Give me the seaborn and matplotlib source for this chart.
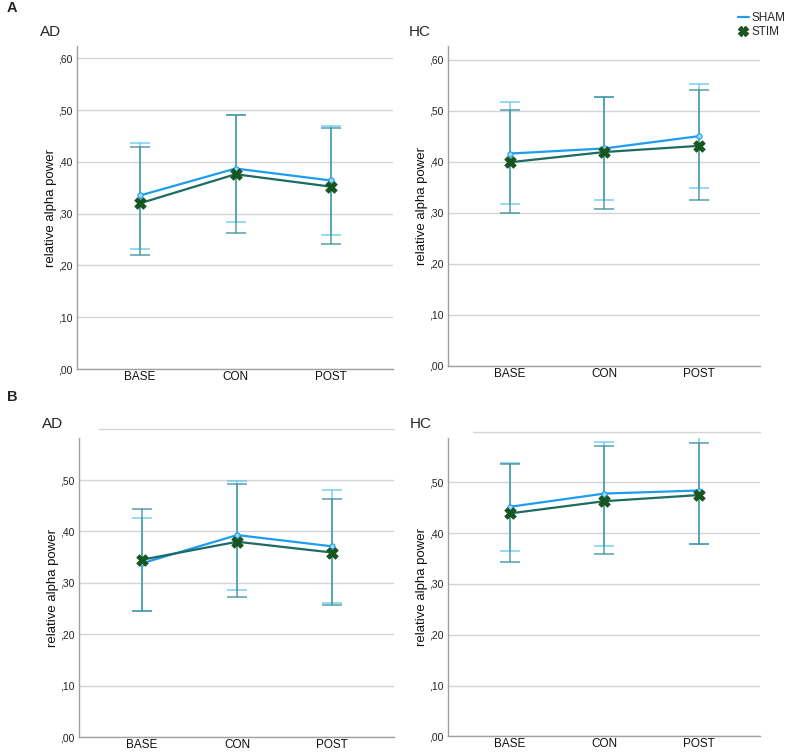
import numpy as np
import pandas as pd
import seaborn as sns
import matplotlib.pyplot as plt
from matplotlib.lines import Line2D

sns.set_theme(style="white")
plt.rcParams['font.family'] = ['Liberation Sans', 'DejaVu Sans']

phases = ["BASE", "CON", "POST"]
groups = ["SHAM", "STIM"]

# panel A, AD
a_ad_sham = [0.335, 0.387, 0.364]
a_ad_sham_lo = [0.232, 0.283, 0.259]
a_ad_sham_hi = [0.437, 0.490, 0.470]
a_ad_stim = [0.320, 0.376, 0.352]
a_ad_stim_lo = [0.220, 0.263, 0.242]
a_ad_stim_hi = [0.428, 0.490, 0.466]

# panel A, HC
a_hc_sham = [0.416, 0.426, 0.450]
a_hc_sham_lo = [0.317, 0.326, 0.348]
a_hc_sham_hi = [0.516, 0.527, 0.552]
a_hc_stim = [0.399, 0.419, 0.431]
a_hc_stim_lo = [0.300, 0.308, 0.325]
a_hc_stim_hi = [0.501, 0.527, 0.540]

# panel B, AD
b_ad_sham = [0.338, 0.393, 0.371]
b_ad_sham_lo = [0.245, 0.286, 0.260]
b_ad_sham_hi = [0.426, 0.499, 0.480]
b_ad_stim = [0.345, 0.380, 0.359]
b_ad_stim_lo = [0.245, 0.272, 0.256]
b_ad_stim_hi = [0.443, 0.492, 0.463]

# panel B, HC
b_hc_sham = [0.452, 0.478, 0.484]
b_hc_sham_lo = [0.365, 0.375, 0.379]
b_hc_sham_hi = [0.538, 0.580, 0.590]
b_hc_stim = [0.439, 0.463, 0.475]
b_hc_stim_lo = [0.344, 0.359, 0.379]
b_hc_stim_hi = [0.536, 0.571, 0.577]

line_col = {"SHAM": "#1f9cf0", "STIM": "#1e6b62"}
err_col = {"SHAM": "#62c6ee", "STIM": "#3a8d97"}

fig = plt.figure(figsize=(7.9, 7.54), dpi=100)

panels = [
    ("AD", [0.0975, 0.5106, 0.400, 0.428], 0.623,
     (a_ad_sham, a_ad_sham_lo, a_ad_sham_hi), (a_ad_stim, a_ad_stim_lo, a_ad_stim_hi)),
    ("HC", [0.567, 0.5146, 0.395, 0.424], 0.626,
     (a_hc_sham, a_hc_sham_lo, a_hc_sham_hi), (a_hc_stim, a_hc_stim_lo, a_hc_stim_hi)),
    ("AD", [0.100, 0.0225, 0.399, 0.396], 0.581,
     (b_ad_sham, b_ad_sham_lo, b_ad_sham_hi), (b_ad_stim, b_ad_stim_lo, b_ad_stim_hi)),
    ("HC", [0.567, 0.0235, 0.395, 0.396], 0.588,
     (b_hc_sham, b_hc_sham_lo, b_hc_sham_hi), (b_hc_stim, b_hc_stim_lo, b_hc_stim_hi)),
]

for i, (title, rect, ytop, sham, stim) in enumerate(panels):
    ax = fig.add_axes(rect)
    rows = []
    for g, (m, lo, hi) in zip(groups, [sham, stim]):
        for p, mv, l, h in zip(phases, m, lo, hi):
            rows.append({"phase": p, "group": g, "mean": mv, "lo": l, "hi": h})
    df = pd.DataFrame(rows)

    # error bars first
    for g in groups:
        d = df[df.group == g]
        ax.errorbar(d["phase"], d["mean"],
                    yerr=[d["mean"] - d["lo"], d["hi"] - d["mean"]],
                    fmt="none", ecolor=err_col[g], elinewidth=1.1,
                    capsize=7, capthick=1.1, alpha=0.85, zorder=2)

    sns.lineplot(data=df, x="phase", y="mean", hue="group",
                 palette=line_col, lw=1.6, legend=False, ax=ax, zorder=3,
                 sort=False)
    d = df[df.group == "SHAM"]
    ax.scatter(d["phase"], d["mean"], s=14, facecolor="#9ed8f7",
               edgecolor="#1f9cf0", lw=0.8, zorder=4)
    d = df[df.group == "STIM"]
    ax.scatter(d["phase"], d["mean"], s=70, marker="X", color="#17561f",
               edgecolor="#17561f", lw=0.5, zorder=5)

    ax.set_xlim(-0.66, 2.65)
    ax.set_ylim(0, ytop)
    top_tick = 0.6 if i < 2 else 0.5
    ticks = np.arange(0, top_tick + 0.001, 0.1)
    ax.set_yticks(ticks)
    ax.set_yticklabels(["," + f"{t:.2f}".split(".")[1] for t in ticks],
                       fontsize=7.5, color="#222222")
    ax.tick_params(axis="x", labelsize=8.5, length=0, pad=1.5,
                   colors="#111111")
    ax.tick_params(axis="y", length=0, pad=3)
    ax.yaxis.grid(True, color="#d4d4d4", lw=1)
    ax.set_axisbelow(True)
    for s in ["top", "right"]:
        ax.spines[s].set_visible(False)
    for s in ["left", "bottom"]:
        ax.spines[s].set_color("#a0a0a0")
        ax.spines[s].set_linewidth(1)
    ax.set_xlabel("")
    ax.set_ylabel("relative alpha power", fontsize=9.5, color="#111111",
                  labelpad=1)
    if i >= 2:
        # stray ,60 gridline sitting above the plot area
        start = 0.065 if i == 2 else 0.08
        ax.axhline(0.6, xmin=start, xmax=1, color="#d4d4d4", lw=1,
                   clip_on=False)

fig.text(40 / 790, 1 - 32 / 754, "AD", fontsize=11, va="center", ha="left")
fig.text(409 / 790, 1 - 32 / 754, "HC", fontsize=11, va="center", ha="left")
fig.text(42 / 790, 1 - 424 / 754, "AD", fontsize=11, va="center", ha="left")
fig.text(410 / 790, 1 - 424 / 754, "HC", fontsize=11, va="center", ha="left")
fig.text(7 / 790, 1 - 8 / 754, "A", fontsize=10.5, fontweight="bold",
         va="center", ha="left")
fig.text(7 / 790, 1 - 397 / 754, "B", fontsize=10.5, fontweight="bold",
         va="center", ha="left")

handles = [Line2D([], [], color=line_col["SHAM"], lw=1.6),
           Line2D([], [], color="#17561f", marker="X", ls="none", ms=7)]
fig.legend(handles, groups, loc="upper right", bbox_to_anchor=(1.005, 0.995),
           frameon=False, fontsize=8.5, handlelength=1.0, handletextpad=0.2,
           labelspacing=0.15, borderpad=0.2)

fig.savefig("out.png", dpi=100)
